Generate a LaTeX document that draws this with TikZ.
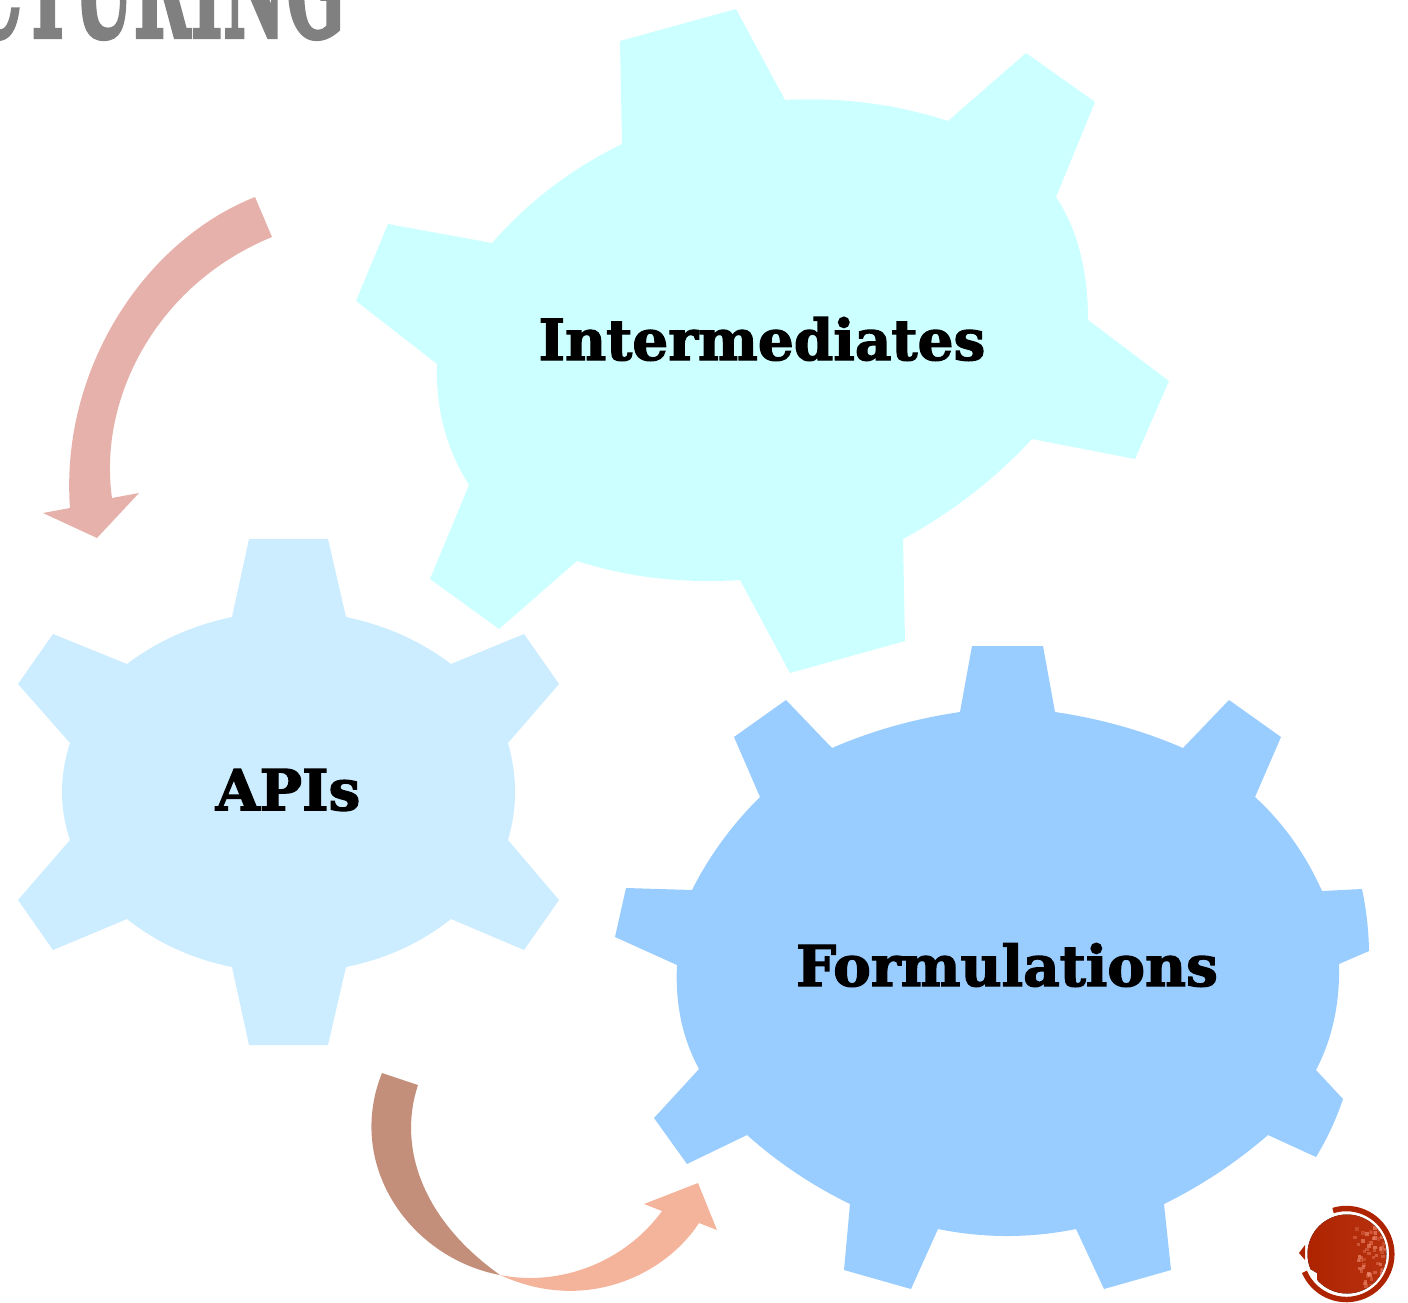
\documentclass[tikz,border=0pt]{standalone}
\usepackage{fontspec}
\setmainfont{DejaVu Serif}
\newfontfamily\titlefont[UprightFont=* Bold,FakeBold=2.5]{DejaVu Serif}
\newfontfamily\gearfont[UprightFont=* Bold,FakeBold=2.2]{DejaVu Serif}
\newcommand\qq[6]{.. controls ({(4*#3-#5)/3},{(4*#4-#6)/3}) and ({(4*#3-#1)/3},{(4*#4-#2)/3}) .. (#5,#6)}
\definecolor{tealgear}{HTML}{CCFFFF}
\definecolor{apigear}{HTML}{CCECFF}
\definecolor{formgear}{HTML}{99CCFF}
\definecolor{pinkarrow}{HTML}{E6B1AB}
\definecolor{brownarrow}{HTML}{C38F7B}
\definecolor{peacharrow}{HTML}{F4B49C}
\definecolor{badge}{HTML}{AE2300}
\definecolor{badgelight}{HTML}{EE8A6E}
\definecolor{titlegray}{HTML}{808080}
\tikzset{
  gearlabel/.style={font=\gearfont\fontsize{42.4}{48}\selectfont,text=black,inner sep=0pt},
}
\begin{document}
\begin{tikzpicture}[x=0.75pt,y=-0.75pt]
\useasboundingbox (0,0) rectangle (1408,1302);
\begin{scope}
\clip (0,0) rectangle (1408,1302);
\node[anchor=base east,inner sep=0pt,text=titlegray,font=\titlefont\fontsize{68}{68}\selectfont,xscale=.76,yscale=1.5] (title) at (345,37.5) {CTURING};
\end{scope}
% Intermediates gear
\fill[tealgear] (620,41) -- (736,9) -- (785,100) \qq{785}{100}{868}{103}{948}{121}
 -- (1026,53) -- (1095,102) -- (1056,197) \qq{1056}{197}{1080}{252}{1088}{320}
 -- (1169,381) -- (1135,459) -- (1032,439) \qq{1032}{439}{972}{494}{903}{539}
 -- (905,641) -- (790,673) -- (740,580) \qq{740}{580}{656}{578}{577}{561}
 -- (499,629) -- (430,579) -- (469,485) \qq{469}{485}{444}{428}{437}{364}
 -- (356,301) -- (388,224) -- (492,243) \qq{492}{243}{552}{187}{622}{144} -- cycle;
% APIs gear
\fill[apigear] (249,539) -- (328,539) -- (346,617) \qq{346}{617}{402}{635}{451}{664}
 -- (524,634) -- (559,684) -- (508,743) \qq{508}{743}{515}{792}{508}{840}
 -- (559,900) -- (524,950) -- (451,919) \qq{451}{919}{402}{949}{346}{967}
 -- (328,1045) -- (249,1045) -- (232,967) \qq{232}{967}{176}{949}{127}{919}
 -- (53,950) -- (18,900) -- (70,840) \qq{70}{840}{62}{792}{70}{743}
 -- (18,684) -- (53,634) -- (127,664) \qq{127}{664}{176}{635}{232}{617} -- cycle;
% Formulations gear
\fill[formgear] (972,646) -- (1043,646) -- (1055,712) \qq{1055}{712}{1121}{726}{1183}{748}
 -- (1229,700) -- (1281,737) -- (1255,797) \qq{1255}{797}{1293}{840}{1322}{891}
 -- (1362,889) \qq{1362}{889}{1367}{920}{1369}{951} -- (1339,964) \qq{1339}{964}{1334}{1020}{1316}{1070}
 -- (1343,1099) \qq{1343}{1099}{1331}{1129}{1316}{1157} -- (1268,1135) \qq{1268}{1135}{1218}{1173}{1164}{1204}
 -- (1171,1270) -- (1104,1289) -- (1076,1229) \qq{1076}{1229}{1007}{1236}{938}{1229}
 -- (911,1289) -- (844,1270) -- (850,1204) \qq{850}{1204}{796}{1173}{747}{1135}
 -- (687,1164) -- (654,1118) -- (699,1069) \qq{699}{1069}{681}{1020}{677}{965}
 -- (615,937) -- (626,888) -- (692,890) \qq{692}{890}{722}{841}{760}{797}
 -- (734,737) -- (786,700) -- (832,748) \qq{832}{748}{894}{726}{960}{712} -- cycle;
\node[gearlabel] (intermediates) at (762,339) {Intermediates};
\node[gearlabel] (apis) at (288,790) {APIs};
\node[gearlabel] (formulations) at (1007,965) {Formulations};
% Curved arrow, upper left
\fill[pinkarrow] (272,237) .. controls (155,285) and (98,400) .. (112,498)
 -- (139,493) -- (97,538) -- (43,513) -- (70,508)
 .. controls (60,372) and (142,242) .. (255,197) -- cycle;
% Curved arrow, lower middle
\fill[peacharrow] (500,1275) .. controls (560,1287) and (625,1262) .. (662,1211)
 -- (644,1204) -- (698,1183) -- (717,1230) -- (699,1223)
 .. controls (665,1275) and (585,1314) .. (500,1275) -- cycle;
\fill[brownarrow] (382,1073) -- (418,1085)
 .. controls (398,1145) and (420,1218) .. (500,1275)
 .. controls (410,1258) and (345,1165) .. (382,1073) -- cycle;
% Page badge
\begin{scope}
\clip (1327,1214) -- (1400,1200) -- (1400,1302) -- (1318,1302) -- (1317,1273) -- (1307,1267) -- (1307,1240) -- cycle;
\fill[left color=badge,middle color=badge,right color=badge!85!badgelight] (1347,1254) circle[radius=39.5];
\begin{scope}
\clip (1347,1254) circle[radius=39.5];
\pgfmathsetseed{7}
\foreach \i in {1,...,70}{
  \pgfmathsetmacro\dx{1352+34*rnd^.6}
  \pgfmathsetmacro\dy{1224+62*rnd}
  \pgfmathsetmacro\dop{25+45*rnd}
  \fill[badgelight,opacity=\dop/100] (\dx,\dy) rectangle ++(3.5,3.5);
}
\end{scope}
\end{scope}
\draw[badge,line width=4.1pt] (1333,1210.5) arc[start angle=-107,end angle=157,radius=45.5];
\fill[badge] (1299,1253) -- (1305,1245) -- (1305,1260) -- cycle;
\end{tikzpicture}
\end{document}
